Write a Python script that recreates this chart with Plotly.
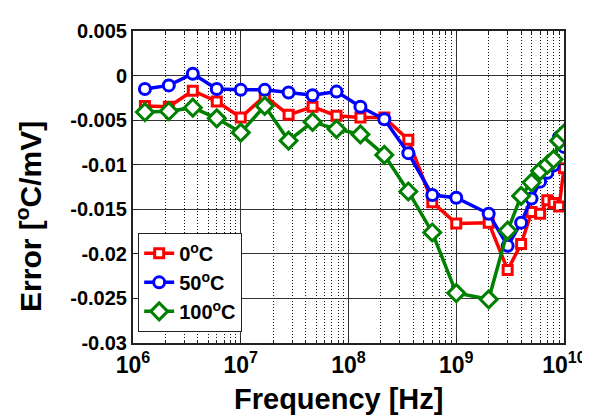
import plotly.graph_objects as go

freq = [1.29e6, 2.15e6, 3.59e6, 5.99e6, 1e7, 1.67e7, 2.78e7, 4.64e7, 7.74e7,
        1.29e8, 2.15e8, 3.59e8, 5.99e8, 1e9, 2e9, 3e9, 4e9, 5e9, 6e9, 7e9,
        8e9, 9e9, 1e10]

err_0c = [-0.0034, -0.0035, -0.0017, -0.0029, -0.0047, -0.0023, -0.0044, -0.0035,
          -0.0045, -0.0047, -0.0047, -0.0072, -0.0142, -0.0166, -0.0165, -0.0218,
          -0.0189, -0.0153, -0.0155, -0.0140, -0.0143, -0.0147, -0.0104]

err_50c = [-0.0015, -0.0011, 0.0002, -0.0015, -0.0016, -0.0016, -0.0019, -0.0022,
           -0.0018, -0.0035, -0.0049, -0.0087, -0.0134, -0.0137, -0.0155, -0.0191,
           -0.0165, -0.0138, -0.0119, -0.0109, -0.0101, -0.0069, -0.0080]

err_100c = [-0.0041, -0.0040, -0.0036, -0.0048, -0.0064, -0.0034, -0.0073, -0.0052,
            -0.0060, -0.0066, -0.0089, -0.0130, -0.0176, -0.0244, -0.0251, -0.0174,
            -0.0135, -0.0120, -0.0107, -0.0100, -0.0094, -0.0073, -0.0065]

series_names = ["0<sup>o</sup>C", "50<sup>o</sup>C", "100<sup>o</sup>C"]

x_tickvals = [1e6, 1e7, 1e8, 1e9, 1e10]
x_ticktext = ["10<sup>6</sup>", "10<sup>7</sup>", "10<sup>8</sup>", "10<sup>9</sup>", "10<sup>10</sup>"]
x_minor = [m * 10 ** d for d in range(6, 10) for m in range(2, 10)]

y_tickvals = [0.005, 0, -0.005, -0.01, -0.015, -0.02, -0.025, -0.03]
y_ticktext = ["0.005", "0", "-0.005", "-0.01", "-0.015", "-0.02", "-0.025", "-0.03"]

x_title = "Frequency [Hz]"
y_title = "Error [<sup>o</sup>C/mV]"

FONT = "Liberation Sans, Arial, sans-serif"

fig = go.Figure()
styles = [("#FF0000", "square", 9), ("#0000FF", "circle", 11), ("#008000", "diamond", 13)]
for name, ys, (col, sym, sz) in zip(series_names, [err_0c, err_50c, err_100c], styles):
    fig.add_trace(go.Scatter(
        x=freq, y=ys, name=name, mode="lines+markers",
        line=dict(color=col, width=3.5),
        marker=dict(symbol=sym, size=sz, color="white", line=dict(color=col, width=3)),
    ))

fig.update_layout(
    width=590, height=417,
    margin=dict(l=125, r=23, t=17, b=82),
    paper_bgcolor="white", plot_bgcolor="white",
    font=dict(family=FONT, color="black"),
    showlegend=True,
    legend=dict(
        x=0.012, y=0.353, xanchor="left", yanchor="top",
        bgcolor="white", bordercolor="#222222", borderwidth=1,
        font=dict(family=FONT, size=20, color="black", weight="bold"),
        itemwidth=30, tracegroupgap=0,
    ),
    annotations=[
        dict(text=x_title, xref="paper", yref="paper", x=0.477, y=-0.18,
             xanchor="center", yanchor="middle", showarrow=False,
             font=dict(family=FONT, size=29, color="black", weight="bold")),
        dict(text=y_title, xref="paper", yref="paper", x=-0.243, y=0.405,
             xanchor="center", yanchor="middle", showarrow=False, textangle=-90,
             font=dict(family=FONT, size=30, color="black", weight="bold")),
    ],
)

fig.update_xaxes(
    type="log", range=[6, 10],
    tickmode="array", tickvals=x_tickvals, ticktext=x_ticktext,
    tickfont=dict(family=FONT, size=23, color="black", weight="bold"),
    ticklabeloverflow="allow",
    showgrid=True, gridcolor="#333333", gridwidth=1,
    ticks="inside", ticklen=5, tickcolor="#222222", mirror="ticks",
    showline=True, linecolor="#222222", linewidth=2,
    minor=dict(tickmode="array", tickvals=x_minor, showgrid=True, griddash="1px,2px",
               gridcolor="#111111", gridwidth=1, ticks="inside", ticklen=3,
               tickcolor="#222222"),
    zeroline=False,
)

fig.update_yaxes(
    range=[-0.03, 0.005],
    tickmode="array", tickvals=y_tickvals, ticktext=y_ticktext,
    tickfont=dict(family=FONT, size=20, color="black", weight="bold"),
    ticklabeloverflow="allow",
    showgrid=True, gridcolor="#333333", gridwidth=1,
    ticks="inside", ticklen=5, tickcolor="#222222", mirror="ticks",
    showline=True, linecolor="#222222", linewidth=2,
    zeroline=False,
)

fig.write_html("out.html")
